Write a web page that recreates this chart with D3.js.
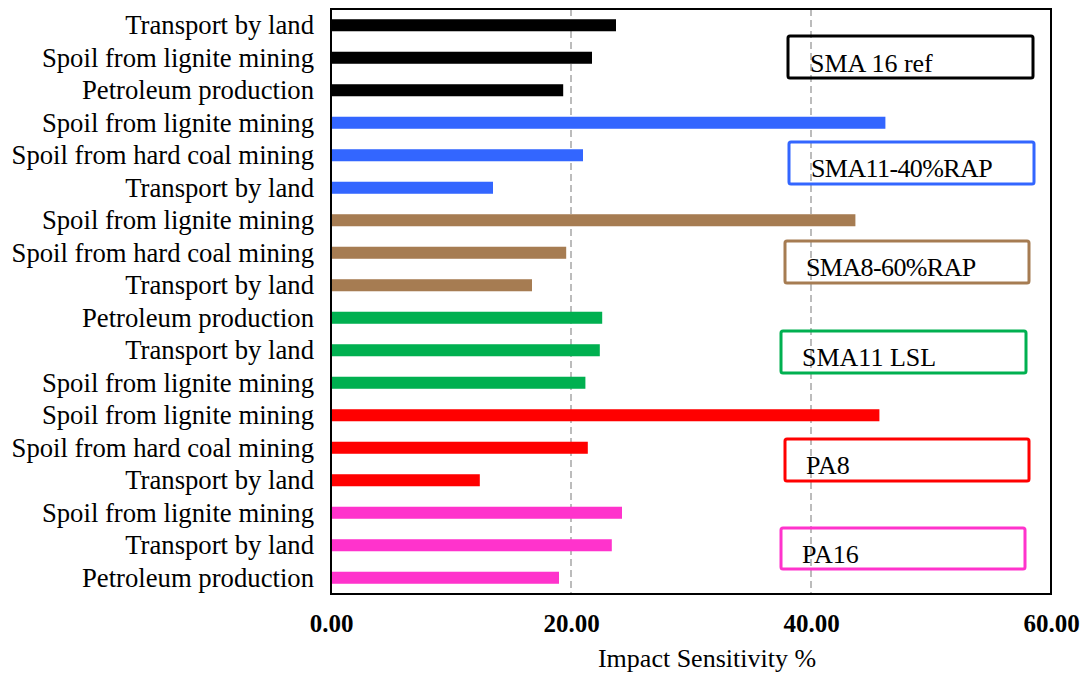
<!DOCTYPE html>
<html>
<head>
<meta charset="utf-8">
<script src="https://cdn.jsdelivr.net/npm/d3@7"></script>
<style>
  html, body { margin: 0; padding: 0; background: #fff; }
  svg { display: block; font-family: "Liberation Serif", "Times New Roman", serif; }
</style>
</head>
<body>
<svg id="chart" width="1085" height="675"></svg>
<script>
// ---- data ----
const groups = ["SMA 16 ref", "SMA11-40%RAP", "SMA8-60%RAP", "SMA11 LSL", "PA8", "PA16"];
const groupColors = ["#000000", "#3366ff", "#a67c52", "#00b050", "#ff0000", "#ff33cc"];
const categories = [
  "Transport by land", "Spoil from lignite mining", "Petroleum production",
  "Spoil from lignite mining", "Spoil from hard coal mining", "Transport by land",
  "Spoil from lignite mining", "Spoil from hard coal mining", "Transport by land",
  "Petroleum production", "Transport by land", "Spoil from lignite mining",
  "Spoil from lignite mining", "Spoil from hard coal mining", "Transport by land",
  "Spoil from lignite mining", "Transport by land", "Petroleum production"
];
const values = [
  23.75, 21.75, 19.35,
  46.2, 21.0, 13.5,
  43.7, 19.6, 16.75,
  22.6, 22.4, 21.2,
  45.7, 21.4, 12.4,
  24.25, 23.4, 19.0
];
const barGroup = [0,0,0, 1,1,1, 2,2,2, 3,3,3, 4,4,4, 5,5,5];
const xTicks = [0, 20, 40, 60];
const xTitle = "Impact Sensitivity %";

// ---- layout ----
const plot = { left: 331, right: 1051, top: 9, bottom: 594 };
const legendBoxes = [
  { x: 788, y: 36, w: 245, h: 42, tx: 810, ty: 72 },
  { x: 789, y: 142, w: 245, h: 42, tx: 811, ty: 177 },
  { x: 785, y: 241, w: 244, h: 42, tx: 806, ty: 276 },
  { x: 781, y: 331, w: 245, h: 42, tx: 802, ty: 366 },
  { x: 785, y: 439, w: 244, h: 42, tx: 806, ty: 474 },
  { x: 781, y: 528, w: 244, h: 41, tx: 802, ty: 563 }
];

const svg = d3.select("#chart");
const idx = d3.range(categories.length);

const x = d3.scaleLinear().domain([0, 60]).range([plot.left, plot.right]);
const y = d3.scaleBand().domain(idx).range([plot.top, plot.bottom]).paddingInner(0.63).paddingOuter(0.315);

// gridlines
svg.append("g").selectAll("line")
  .data(xTicks.filter(t => t > 0 && t < 60))
  .join("line")
  .attr("x1", d => x(d)).attr("x2", d => x(d))
  .attr("y1", plot.top).attr("y2", plot.bottom)
  .attr("stroke", "#a6a6a6").attr("stroke-width", 1.5)
  .attr("stroke-dasharray", "7,4");

// bars
svg.append("g").selectAll("rect")
  .data(idx)
  .join("rect")
  .attr("x", x(0))
  .attr("y", i => y(i))
  .attr("width", i => x(values[i]) - x(0))
  .attr("height", y.bandwidth())
  .attr("fill", i => groupColors[barGroup[i]]);

// frame
svg.append("rect")
  .attr("x", plot.left).attr("y", plot.top)
  .attr("width", plot.right - plot.left).attr("height", plot.bottom - plot.top)
  .attr("fill", "none").attr("stroke", "#000").attr("stroke-width", 2);

// y labels
const yAxis = d3.axisLeft(y).tickSize(0).tickPadding(17).tickFormat(i => categories[i]);
const gy = svg.append("g").attr("transform", `translate(${plot.left},0)`).call(yAxis);
gy.select(".domain").remove();
gy.attr("font-family", '"Liberation Serif", "Times New Roman", serif');
gy.selectAll("text")
  .attr("font-size", "26.7px").attr("fill", "#000")
  .attr("dy", "0.34em");

// x labels
const xAxis = d3.axisBottom(x).tickValues(xTicks).tickSize(0).tickPadding(20).tickFormat(d3.format(".2f"));
const gx = svg.append("g").attr("transform", `translate(0,${plot.bottom})`).call(xAxis);
gx.select(".domain").remove();
gx.attr("font-family", '"Liberation Serif", "Times New Roman", serif');
gx.selectAll("text")
  .attr("font-size", "25px").attr("font-weight", "bold").attr("fill", "#000");

svg.append("text")
  .attr("x", 707).attr("y", 667)
  .attr("text-anchor", "middle")
  .attr("font-size", "26px").attr("fill", "#000")
  .text(xTitle);

// legend boxes
const lg = svg.append("g").selectAll("g").data(groups).join("g");
lg.append("rect")
  .attr("x", (d, i) => legendBoxes[i].x).attr("y", (d, i) => legendBoxes[i].y)
  .attr("width", (d, i) => legendBoxes[i].w).attr("height", (d, i) => legendBoxes[i].h)
  .attr("rx", 2)
  .attr("fill", "none").attr("stroke", (d, i) => groupColors[i]).attr("stroke-width", 3);
lg.append("text")
  .attr("x", (d, i) => legendBoxes[i].tx).attr("y", (d, i) => legendBoxes[i].ty)
  .attr("font-size", "26px").attr("fill", "#000")
  .attr("letter-spacing", d => d.includes("%") ? "-0.6px" : null)
  .text(d => d);
</script>
</body>
</html>
